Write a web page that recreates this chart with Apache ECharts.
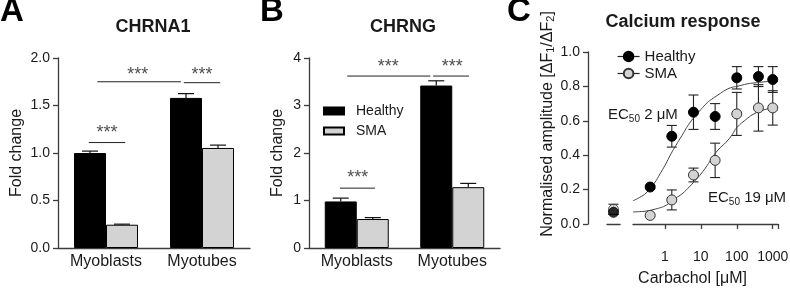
<!DOCTYPE html>
<html>
<head>
<meta charset="utf-8">
<script src="https://cdn.jsdelivr.net/npm/echarts@6/dist/echarts.min.js"></script>
<style>
html, body { margin: 0; padding: 0; background: #fff; }
#chart { width: 790px; height: 288px; }
</style>
</head>
<body>
<div id="chart"></div>
<script>
// ──── data ────
const groups = ['Myoblasts', 'Myotubes'];

// A: CHRNA1 fold change (mean + SEM)
const chrna1Healthy = [1.0, 1.58];
const chrna1HealthyErr = [0.02, 0.045];
const chrna1Sma = [0.245, 1.053];
const chrna1SmaErr = [0.006, 0.03];

// B: CHRNG fold change (mean + SEM)
const chrngHealthy = [0.98, 3.42];
const chrngHealthyErr = [0.07, 0.10];
const chrngSma = [0.61, 1.28];
const chrngSmaErr = [0.03, 0.08];

// significance brackets, x in group units (0..2), y in fold change
const bracketsA = [
    { x: [0.32, 0.70], y: 1.11, star: [0.51, 1.21] },
    { x: [0.41, 1.28], y: 1.75, star: [0.83, 1.82] },
    { x: [1.31, 1.69], y: 1.74, star: [1.50, 1.82] },
];
const bracketsB = [
    { x: [0.325, 0.69], y: 1.26, star: [0.51, 1.47] },
    { x: [0.40, 1.27], y: 3.62, star: [0.83, 3.81] },
    { x: [1.30, 1.675], y: 3.62, star: [1.50, 3.81] },
];

// C: calcium response vs carbachol (µM)
const carbachol = [0.39, 1.56, 6.25, 25, 100, 400, 1000];
const caHealthy = [0.215, 0.51, 0.65, 0.625, 0.85, 0.857, 0.84];
const caHealthyErr = [0.008, 0.063, 0.10, 0.075, 0.065, 0.058, 0.075];
const caSma = [0.05, 0.14, 0.285, 0.37, 0.64, 0.675, 0.675];
const caSmaErr = [0.006, 0.058, 0.04, 0.10, 0.125, 0.135, 0.10];
// baseline without carbachol: [mean, SEM]
const controlHealthy = [0.068, 0.012];
const controlSma = [0.085, 0.03];

// fitted curves
const fitConc = [0.13, 0.2, 0.3, 0.5, 0.75, 1, 1.5, 2, 3, 5, 7.5, 10, 15, 20, 30, 50, 75, 100, 200, 300, 500, 1000, 1400];
const fitHealthy = [0.135, 0.155, 0.18, 0.235, 0.295, 0.34, 0.41, 0.455, 0.515, 0.59, 0.635, 0.665, 0.705, 0.725, 0.75, 0.78, 0.795, 0.80, 0.815, 0.82, 0.825, 0.83, 0.83];
const fitSma = [0.07, 0.072, 0.075, 0.085, 0.095, 0.105, 0.13, 0.15, 0.175, 0.22, 0.26, 0.29, 0.34, 0.38, 0.43, 0.475, 0.52, 0.56, 0.615, 0.64, 0.66, 0.675, 0.68];

// ──── style ────
const FONT = '"Liberation Sans", Arial, sans-serif';
const INK = '#1a1a1a';
const AXIS = '#3c3c3c';
const GREY = '#d3d3d3';

const axisLine = { show: true, lineStyle: { color: AXIS, width: 1.3 } };
const yTick = { show: true, length: 5, lineStyle: { color: AXIS, width: 1.3 } };

function zip(xs, ys) { return xs.map((x, i) => [x, ys[i]]); }

// bar error bar: only the upper whisker, shifted to the bar centre
function barErrItem(offset) {
    return function (params, api) {
        const base = api.coord([api.value(0), api.value(1)]);
        const top = api.coord([api.value(0), api.value(2)]);
        const x = base[0] + offset;
        const style = { stroke: '#111', lineWidth: 1.2 };
        return { type: 'group', children: [
            { type: 'line', shape: { x1: x, y1: base[1], x2: x, y2: top[1] }, style },
            { type: 'line', shape: { x1: x - 8, y1: top[1], x2: x + 8, y2: top[1] }, style },
        ] };
    };
}

function errItem(params, api) {
    const lo = api.coord([api.value(0), api.value(1)]);
    const hi = api.coord([api.value(0), api.value(2)]);
    const style = { stroke: '#222', lineWidth: 1.1 };
    return { type: 'group', children: [
        { type: 'line', shape: { x1: hi[0], y1: hi[1], x2: lo[0], y2: lo[1] }, style },
        { type: 'line', shape: { x1: hi[0] - 5, y1: hi[1], x2: hi[0] + 5, y2: hi[1] }, style },
        { type: 'line', shape: { x1: lo[0] - 5, y1: lo[1], x2: lo[0] + 5, y2: lo[1] }, style },
    ] };
}

function barPanel(xCat, xOver, yIdx, healthy, healthyErr, sma, smaErr, brackets) {
    const out = [
        { type: 'bar', name: 'Healthy', xAxisIndex: xCat, yAxisIndex: yIdx, data: healthy,
          barWidth: 32, barGap: '0%', itemStyle: { color: '#000', borderColor: '#000', borderWidth: 1 } },
        { type: 'bar', name: 'SMA', xAxisIndex: xCat, yAxisIndex: yIdx, data: sma,
          barWidth: 32, barGap: '0%', itemStyle: { color: GREY, borderColor: '#000', borderWidth: 1 } },
        { type: 'custom', xAxisIndex: xCat, yAxisIndex: yIdx, z: 3, renderItem: barErrItem(-16),
          encode: { x: 0, y: [1, 2] }, data: healthy.map((v, i) => [i, v, v + healthyErr[i]]) },
        { type: 'custom', xAxisIndex: xCat, yAxisIndex: yIdx, z: 3, renderItem: barErrItem(16),
          encode: { x: 0, y: [1, 2] }, data: sma.map((v, i) => [i, v, v + smaErr[i]]) },
    ];
    brackets.forEach(b => {
        out.push({ type: 'line', xAxisIndex: xOver, yAxisIndex: yIdx, symbol: 'none', silent: true,
            lineStyle: { color: '#222', width: 1 }, data: [[b.x[0], b.y], [b.x[1], b.y]] });
    });
    out.push({ type: 'scatter', xAxisIndex: xOver, yAxisIndex: yIdx, silent: true, symbolSize: 0.1,
        itemStyle: { color: 'rgba(0,0,0,0)' },
        label: { show: true, position: 'inside', formatter: '***', fontSize: 18, color: '#222', fontFamily: FONT },
        data: brackets.map(b => b.star) });
    return out;
}

const chart = echarts.init(document.getElementById('chart'), null, { renderer: 'canvas' });

const catAxis = (gridIndex) => ({
    gridIndex, type: 'category', data: groups, axisLine, axisTick: { show: false },
    axisLabel: { fontSize: 16, color: INK, fontFamily: FONT, margin: 6 },
});
const overAxis = (gridIndex) => ({ gridIndex, type: 'value', min: 0, max: 2, show: false });
const foldAxis = (gridIndex, max, interval, fmt, gap) => ({
    gridIndex, type: 'value', min: 0, max, interval,
    name: 'Fold change', nameLocation: 'middle', nameGap: gap,
    nameTextStyle: { fontSize: 16, color: INK, fontFamily: FONT },
    axisLine, axisTick: yTick, splitLine: { show: false },
    axisLabel: { fontSize: 14, color: INK, fontFamily: FONT, margin: 8, formatter: fmt },
});

const option = {
    animation: false,
    backgroundColor: '#fff',
    grid: [
        { left: 58, top: 58, width: 192, height: 190, outerBoundsMode: 'none' },
        { left: 309, top: 58, width: 191, height: 190, outerBoundsMode: 'none' },
        { left: 607, top: 52, width: 13, height: 172, outerBoundsMode: 'none' },
        { left: 633, top: 52, width: 145, height: 172, outerBoundsMode: 'none' },
    ],
    xAxis: [
        catAxis(0), overAxis(0),
        catAxis(1), overAxis(1),
        { gridIndex: 2, type: 'value', min: 0, max: 1, offset: 19, axisLine,
          axisTick: { show: false }, axisLabel: { show: false }, splitLine: { show: false } },
        { gridIndex: 3, type: 'log', logBase: 10, min: 0.13, max: 1400, offset: 19, axisLine,
          axisTick: { show: true, length: 5, lineStyle: { color: AXIS, width: 1.3 } },
          minorTick: { show: false }, splitLine: { show: false },
          axisLabel: { fontSize: 14, color: INK, fontFamily: FONT, margin: 7, showMinLabel: false,
              formatter: v => {
                  const l = Math.log10(v);
                  return Math.abs(l - Math.round(l)) < 1e-6 ? String(Math.round(v)) : '';
              } },
          name: 'Carbachol [μM]', nameLocation: 'middle', nameGap: 28,
          nameTextStyle: { fontSize: 16, color: INK, fontFamily: FONT, padding: [0, 26, 0, 0] } },
    ],
    yAxis: [
        foldAxis(0, 2, 0.5, v => v.toFixed(1), 33),
        foldAxis(1, 4, 1, v => String(v), 23),
        { gridIndex: 2, type: 'value', min: 0, max: 1, show: false },
        { gridIndex: 3, type: 'value', min: 0, max: 1, interval: 0.2, offset: 45,
          axisLine, axisTick: yTick, splitLine: { show: false },
          axisLabel: { fontSize: 14, color: INK, fontFamily: FONT, margin: 8, formatter: v => v.toFixed(1) },
          name: 'Normalised amplitude [ΔF{s|1}/ΔF{s|2}]', nameLocation: 'middle', nameGap: 31,
          nameTextStyle: { fontSize: 16, color: INK, fontFamily: FONT, lineHeight: 19, padding: [0, 0, 0, 28],
              rich: { s: { fontSize: 11, color: INK, fontFamily: FONT, verticalAlign: 'bottom', lineHeight: 19 } } } },
    ],
    legend: [
        { data: ['Healthy', 'SMA'], orient: 'vertical', left: 318, top: 99, icon: 'rect',
          itemWidth: 20, itemHeight: 7, itemGap: 6, selectedMode: false,
          textStyle: { fontSize: 14, color: INK, fontFamily: FONT, padding: [0, 0, 0, 7] } },
        { data: ['Healthy ', 'SMA '], orient: 'vertical', left: 612, top: 44,
          itemWidth: 22, itemHeight: 12, itemGap: 2, selectedMode: false,
          lineStyle: { color: '#222', width: 1.2, opacity: 1 },
          textStyle: { fontSize: 15, color: INK, fontFamily: FONT } },
    ],
    graphic: [
        { type: 'text', x: 0, y: 12, style: { text: 'A', font: 'bold 33px ' + FONT, fill: '#000', textVerticalAlign: 'middle' } },
        { type: 'text', x: 260, y: 12, style: { text: 'B', font: 'bold 33px ' + FONT, fill: '#000', textVerticalAlign: 'middle' } },
        { type: 'text', x: 507, y: 12, style: { text: 'C', font: 'bold 33px ' + FONT, fill: '#000', textVerticalAlign: 'middle' } },
        { type: 'text', x: 153, y: 27, style: { text: 'CHRNA1', font: 'bold 18px ' + FONT, fill: INK, textAlign: 'center', textVerticalAlign: 'middle' } },
        { type: 'text', x: 403, y: 27, style: { text: 'CHRNG', font: 'bold 18px ' + FONT, fill: INK, textAlign: 'center', textVerticalAlign: 'middle' } },
        { type: 'text', x: 683, y: 22, style: { text: 'Calcium response', font: 'bold 18px ' + FONT, fill: INK, textAlign: 'center', textVerticalAlign: 'middle' } },
        { type: 'text', x: 608, y: 115, style: { text: 'EC{s|50} 2 μM', font: '15px ' + FONT, fill: INK, textVerticalAlign: 'middle',
            rich: { s: { fontSize: 10, fontFamily: FONT, fill: INK, verticalAlign: 'bottom', lineHeight: 18 } } } },
        { type: 'text', x: 708, y: 198, style: { text: 'EC{s|50} 19 μM', font: '15px ' + FONT, fill: INK, textVerticalAlign: 'middle',
            rich: { s: { fontSize: 10, fontFamily: FONT, fill: INK, verticalAlign: 'bottom', lineHeight: 18 } } } },
    ],
    series: [
        ...barPanel(0, 1, 0, chrna1Healthy, chrna1HealthyErr, chrna1Sma, chrna1SmaErr, bracketsA),
        ...barPanel(2, 3, 1, chrngHealthy, chrngHealthyErr, chrngSma, chrngSmaErr, bracketsB),

        // ──── C: baseline point ────
        { type: 'custom', xAxisIndex: 4, yAxisIndex: 2, renderItem: errItem, encode: { x: 0, y: [1, 2] },
          data: [[0.5, controlSma[0] - controlSma[1], controlSma[0] + controlSma[1]],
                 [0.5, controlHealthy[0] - controlHealthy[1], controlHealthy[0] + controlHealthy[1]]] },
        { type: 'scatter', xAxisIndex: 4, yAxisIndex: 2, symbolSize: 10, z: 4,
          itemStyle: { color: GREY, borderColor: '#333', borderWidth: 1 }, data: [[0.5, controlSma[0]]] },
        { type: 'scatter', xAxisIndex: 4, yAxisIndex: 2, symbolSize: 10, z: 5,
          itemStyle: { color: '#000', borderColor: '#000', borderWidth: 1 }, data: [[0.5, controlHealthy[0]]] },

        // ──── C: fits ────
        { type: 'line', name: 'fitHealthy', xAxisIndex: 5, yAxisIndex: 3, smooth: true, symbol: 'none', silent: true,
          lineStyle: { color: '#444', width: 1 }, data: zip(fitConc, fitHealthy) },
        { type: 'line', name: 'fitSma', xAxisIndex: 5, yAxisIndex: 3, smooth: true, symbol: 'none', silent: true,
          lineStyle: { color: '#444', width: 1 }, data: zip(fitConc, fitSma) },

        // ──── C: error bars + points ────
        { type: 'custom', xAxisIndex: 5, yAxisIndex: 3, renderItem: errItem, encode: { x: 0, y: [1, 2] }, z: 3,
          data: carbachol.map((c, i) => [c, caSma[i] - caSmaErr[i], caSma[i] + caSmaErr[i]]) },
        { type: 'custom', xAxisIndex: 5, yAxisIndex: 3, renderItem: errItem, encode: { x: 0, y: [1, 2] }, z: 3,
          data: carbachol.map((c, i) => [c, caHealthy[i] - caHealthyErr[i], caHealthy[i] + caHealthyErr[i]]) },
        { type: 'line', name: 'SMA ', xAxisIndex: 5, yAxisIndex: 3, symbol: 'circle', symbolSize: 10, showAllSymbol: true, z: 4,
          lineStyle: { width: 0, opacity: 0 }, itemStyle: { color: GREY, borderColor: '#333', borderWidth: 1 },
          data: zip(carbachol, caSma) },
        { type: 'line', name: 'Healthy ', xAxisIndex: 5, yAxisIndex: 3, symbol: 'circle', symbolSize: 10, showAllSymbol: true, z: 5,
          lineStyle: { width: 0, opacity: 0 }, itemStyle: { color: '#000', borderColor: '#000', borderWidth: 1 },
          data: zip(carbachol, caHealthy) },
    ],
};

chart.setOption(option);
</script>
</body>
</html>
